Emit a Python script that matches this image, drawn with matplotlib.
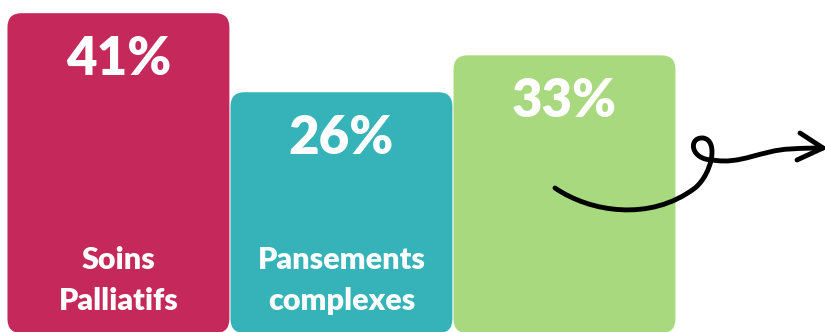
import matplotlib
matplotlib.use('Agg')
import matplotlib.pyplot as plt
from matplotlib.patches import FancyBboxPatch, PathPatch
from matplotlib.path import Path

# data
labels = ['Soins\nPalliatifs', 'Pansements\ncomplexes', '']
values = [41, 26, 33]
colors = ['#C5285B', '#35B3B8', '#A8D97F']

base = -19.7
W, H = 825, 332
x0, x1 = -0.531, 3.168
y0, y1 = -19.5, 43.5

fig = plt.figure(figsize=(W / 100, H / 100), dpi=100)
ax = fig.add_axes([0, 0, 1, 1])
ax.set_xlim(x0, x1)
ax.set_ylim(y0, y1)
ax.axis('off')

# bars drawn with ax.bar then swapped for rounded boxes
bars = ax.bar(range(len(values)), [v - base for v in values], bottom=base, width=0.995)
x_px = W / (x1 - x0)
y_px = H / (y1 - y0)
aspect = x_px / y_px
r = 14 / x_px
for b, c in zip(bars, colors):
    x, y = b.get_x(), b.get_y()
    w, h = b.get_width(), b.get_height()
    b.remove()
    ax.add_patch(FancyBboxPatch((x, y), w, h,
                                boxstyle=f'round,pad=0,rounding_size={r}',
                                mutation_aspect=aspect, fc=c, ec='none'))

font = ['Lato', 'DejaVu Sans']
for i, (v, lab) in enumerate(zip(values, labels)):
    ax.annotate(f'{v}%', (i, v), xytext=(0, -33), textcoords='offset points',
                ha='center', va='center', color='white', fontsize=38,
                fontweight='heavy', family=font)
    if lab:
        ax.text(i, 0.155, lab, transform=ax.get_xaxis_transform(),
                ha='center', va='center', color='white', fontsize=22,
                fontweight='heavy', family=font, linespacing=1.55)

# hand-drawn arrow (decoration, pixel coordinates)
ov = fig.add_axes([0, 0, 1, 1])
ov.set_xlim(0, W)
ov.set_ylim(H, 0)
ov.axis('off')
ov.patch.set_alpha(0)

verts = [(555, 188),
         (590, 212), (650, 222), (695, 188),
         (712, 174), (719, 140), (703, 138),
         (688, 137), (690, 160), (713, 160),
         (740, 165), (762, 150), (790, 149),
         (805, 148), (815, 148), (823, 148)]
codes = [Path.MOVETO] + [Path.CURVE4] * 15
ov.add_patch(PathPatch(Path(verts, codes), fc='none', ec='black', lw=3.5,
                       capstyle='round', joinstyle='round'))
ov.plot([800, 823, 797], [133, 148, 160], color='black', lw=3.5,
        solid_capstyle='round', solid_joinstyle='round')

fig.savefig('out.png', dpi=100)
